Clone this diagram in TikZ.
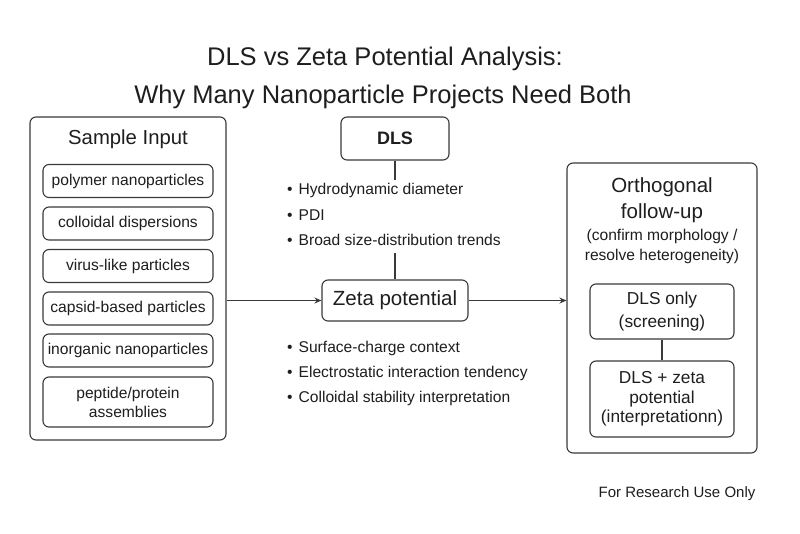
\documentclass[tikz,border=0pt]{standalone}
\usepackage{fontspec}
\setmainfont{Liberation Sans}
\usetikzlibrary{arrows.meta}
\definecolor{ink}{HTML}{1E1E1E}
\definecolor{edge}{HTML}{3A3A3A}
\tikzset{
  box/.style={draw=edge, line width=1.1pt, rounded corners=6pt, text=ink, align=center, inner sep=0pt},
  lbl/.style={text=ink, align=center, inner sep=0pt},
  bul/.style={text=ink, anchor=west, inner sep=0pt, font=\fontsize{15.6}{18}\selectfont},
  conn/.style={draw=edge, line width=1.1pt},
  arr/.style={conn, -{Stealth[length=7pt,width=6pt]}},
}
\begin{document}
\begin{tikzpicture}[x=1pt,y=-1pt]
\useasboundingbox (0,0) rectangle (800,533);
\fill[white] (0,0) rectangle (800,533);
% title
\node[lbl, font=\fontsize{25.5}{30}\selectfont] (t1) at (385,59) {DLS vs Zeta Potential Analysis:};
\node[lbl, font=\fontsize{25.5}{30}\selectfont] (t2) at (383,97) {Why Many Nanoparticle Projects Need Both};
% sample input
\node[box, minimum width=196pt, minimum height=323pt] (inp) at (128,278.5) {};
\node[lbl, font=\fontsize{20.3}{24}\selectfont] (inpt) at (128,139) {Sample Input};
\tikzset{ibox/.style={box, minimum width=170pt, font=\fontsize{15.6}{19}\selectfont}}
\node[ibox, minimum height=33pt] (s1) at (128,181) {polymer nanoparticles};
\node[ibox, minimum height=33pt] (s2) at (128,223.5) {colloidal dispersions};
\node[ibox, minimum height=33pt] (s3) at (128,266) {virus-like particles};
\node[ibox, minimum height=33pt] (s4) at (128,308.5) {capsid-based particles};
\node[ibox, minimum height=33pt] (s5) at (128,350.5) {inorganic nanoparticles};
\node[ibox, minimum height=50pt] (s6) at (128,402) {peptide/protein\\assemblies};
% DLS
\node[box, minimum width=108pt, minimum height=43pt, font=\fontsize{18}{22}\selectfont\bfseries] (dls) at (395,138.5) {DLS};
\coordinate (d1) at (395,180);
\draw[conn] (dls.south) -- (d1);
\node[bul] (b1) at (287,190) {\textbullet\hspace{6pt}Hydrodynamic diameter};
\node[bul] (b2) at (287,215) {\textbullet\hspace{6pt}PDI};
\node[bul] (b3) at (287,240) {\textbullet\hspace{6pt}Broad size-distribution trends};
% zeta
\node[box, minimum width=146pt, minimum height=41pt, font=\fontsize{20.5}{24}\selectfont] (zeta) at (395,300.5) {Zeta potential};
\coordinate (d2) at (395,253);
\draw[conn] (d2) -- (zeta.north);
\node[bul] (b4) at (287,348) {\textbullet\hspace{6pt}Surface-charge context};
\node[bul] (b5) at (287,373) {\textbullet\hspace{6pt}Electrostatic interaction tendency};
\node[bul] (b6) at (287,398) {\textbullet\hspace{6pt}Colloidal stability interpretation};
% right
\node[box, minimum width=190pt, minimum height=290pt] (orth) at (662,308) {};
\node[lbl, font=\fontsize{20.5}{26}\selectfont] (ot) at (662,200) {Orthogonal\\follow-up};
\node[lbl, font=\fontsize{15.6}{20}\selectfont] (os) at (662,246) {(confirm morphology /\\resolve heterogeneity)};
\node[box, minimum width=144pt, minimum height=55pt, font=\fontsize{17.3}{23}\selectfont] (r1) at (662,311.5) {DLS only\\(screening)};
\node[box, minimum width=144pt, minimum height=76pt, font=\fontsize{17.3}{19.5}\selectfont] (r2) at (662,399) {DLS + zeta\\potential\\(interpretationn)};
\draw[conn] (r1.south) -- (r2.north);
% arrows
\draw[arr] (inp.east |- zeta.west) -- (zeta.west);
\draw[arr] (zeta.east) -- (orth.west |- zeta.east);
% footer
\node[lbl, font=\fontsize{15}{18}\selectfont] (ft) at (677,494) {For Research Use Only};
\end{tikzpicture}
\end{document}
